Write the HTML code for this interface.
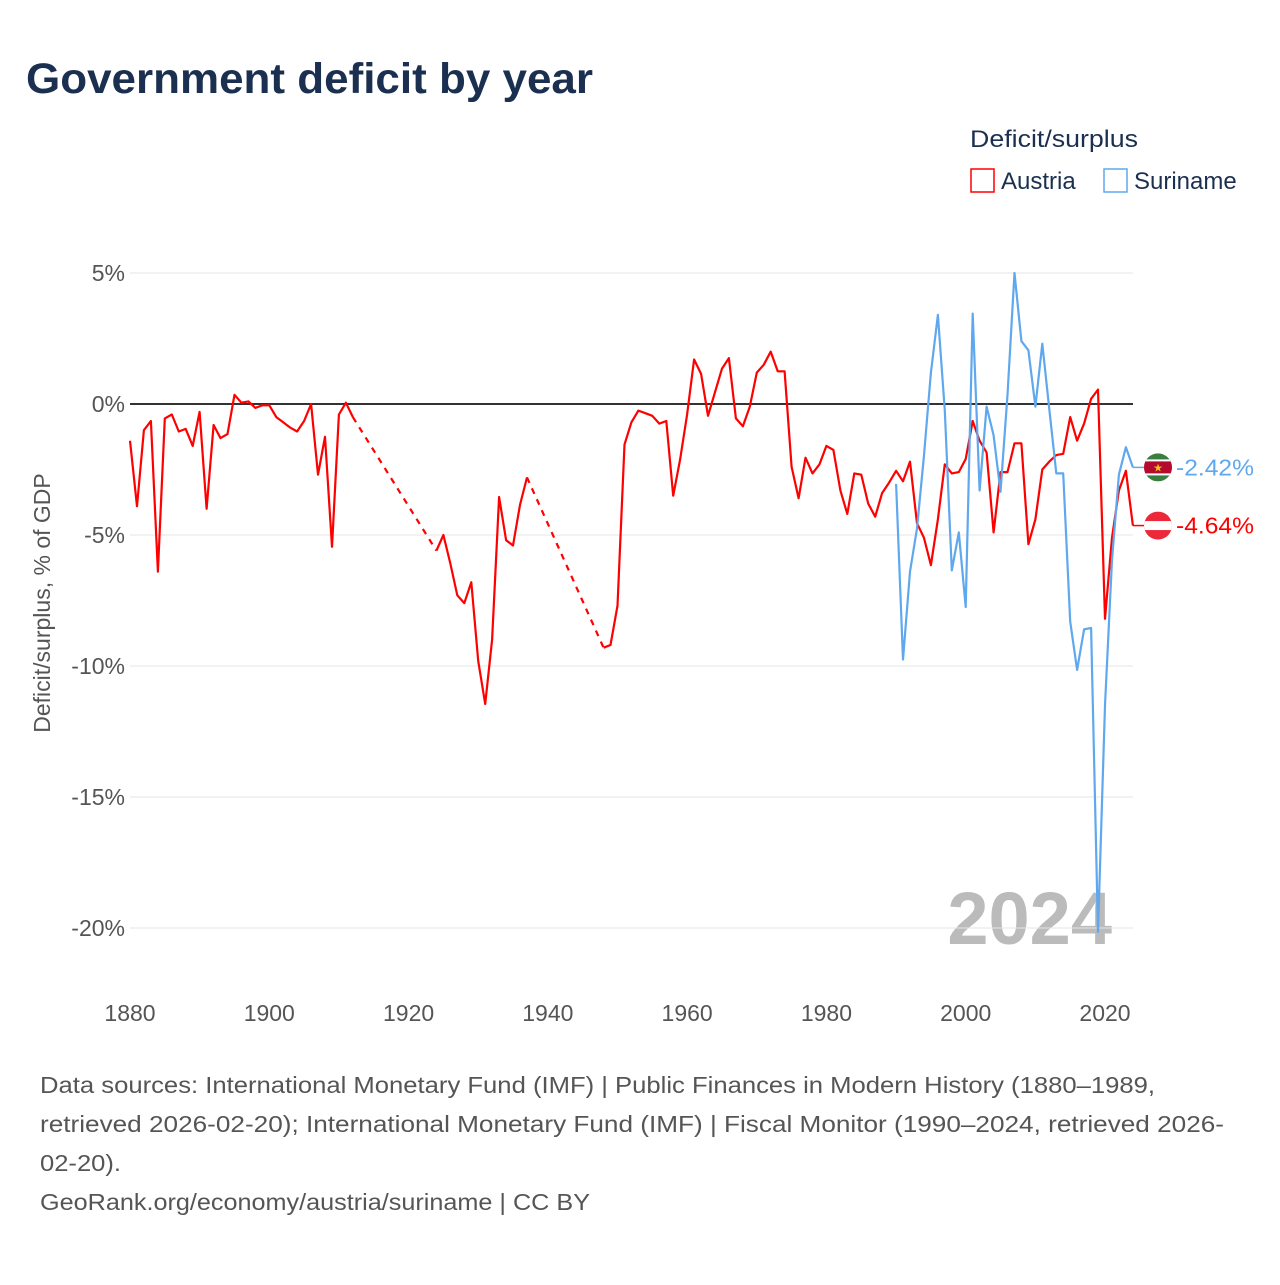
<!DOCTYPE html>
<html><head><meta charset="utf-8"><style>
body{margin:0;background:#fff;font-family:"Liberation Sans",Lato,sans-serif;}
</style></head><body>
<svg id="chart" width="1280" height="1280" viewBox="0 0 1280 1280" xmlns="http://www.w3.org/2000/svg">
<text x="26" y="93" font-size="43" font-weight="bold" fill="#1b3050" textLength="567" lengthAdjust="spacingAndGlyphs">Government deficit by year</text>
<text x="970" y="147" font-size="24" fill="#1b3050" textLength="168" lengthAdjust="spacingAndGlyphs">Deficit/surplus</text>
<g><rect x="971" y="169" width="23" height="23" fill="none" stroke="#f00" stroke-width="1.5"/><text x="1001" y="189" font-size="24" fill="#1b3050">Austria</text></g>
<g><rect x="1104" y="169" width="23" height="23" fill="none" stroke="#5fa8ee" stroke-width="1.5"/><text x="1134" y="189" font-size="24" fill="#1b3050">Suriname</text></g>
<text x="1112" y="944" text-anchor="end" font-size="74" font-weight="bold" fill="#bbb">2024</text>
<g id="grid"></g><g id="series"></g><g id="labels"></g>
<text transform="translate(50,603) rotate(-90)" text-anchor="middle" font-size="23" fill="#555">Deficit/surplus, % of GDP</text>
<g font-size="23" fill="#555">
<text x="40" y="1093" textLength="1115" lengthAdjust="spacingAndGlyphs">Data sources: International Monetary Fund (IMF) | Public Finances in Modern History (1880–1989,</text>
<text x="40" y="1132" textLength="1184" lengthAdjust="spacingAndGlyphs">retrieved 2026-02-20); International Monetary Fund (IMF) | Fiscal Monitor (1990–2024, retrieved 2026-</text>
<text x="40" y="1171" textLength="81" lengthAdjust="spacingAndGlyphs">02-20).</text>
<text x="40" y="1210" textLength="550" lengthAdjust="spacingAndGlyphs">GeoRank.org/economy/austria/suriname | CC BY</text>
</g>
</svg>
<script>
const yTicks=[5,0,-5,-10,-15,-20];
const xTicks=[1880,1900,1920,1940,1960,1980,2000,2020];
const austriaA=[-1.4,-3.9,-1.0,-0.65,-6.4,-0.55,-0.4,-1.05,-0.95,-1.6,-0.3,-4.0,-0.8,-1.3,-1.15,0.35,0.05,0.1,-0.15,-0.05,-0.05,-0.5,-0.7,-0.9,-1.05,-0.65,0,-2.7,-1.25,-5.45,-0.4,0.05,-0.5]; // 1880-1912
const austriaB=[-5.6,-5.0,-6.1,-7.3,-7.6,-6.8,-9.8,-11.45,-9.0,-3.55,-5.2,-5.4,-3.85,-2.8]; // 1924-1937
const austriaC=[-9.3,-9.2,-7.7,-1.55,-0.7,-0.25,-0.35,-0.45,-0.75,-0.65,-3.5,-2.1,-0.4,1.7,1.15,-0.45,0.45,1.35,1.75,-0.55,-0.85,-0.1,1.2,1.5,2.0,1.25,1.25,-2.4,-3.6,-2.05,-2.65,-2.3,-1.6,-1.75,-3.3,-4.2,-2.65,-2.7,-3.8,-4.3,-3.4,-3.0,-2.55,-2.95,-2.2,-4.55,-5.1,-6.15,-4.4,-2.3,-2.65,-2.6,-2.1,-0.65,-1.4,-1.85,-4.9,-2.6,-2.6,-1.5,-1.5,-5.35,-4.4,-2.5,-2.2,-1.95,-1.9,-0.5,-1.4,-0.75,0.2,0.55,-8.2,-5.1,-3.3,-2.55,-4.64]; // 1948-2024
const suriname=[-3.05,-9.75,-6.4,-4.75,-2.0,1.2,3.4,-0.25,-6.35,-4.9,-7.75,3.45,-3.3,-0.1,-1.2,-3.35,0.35,5.0,2.4,2.05,-0.1,2.3,-0.2,-2.65,-2.65,-8.3,-10.15,-8.6,-8.55,-20.15,-11.5,-5.95,-2.7,-1.65,-2.42]; // 1990-2024
const NS='http://www.w3.org/2000/svg';
const xs=y=>130+(y-1880)*975/140;
const ys=v=>404-v*26.2;
function mk(t,a,p){const e=document.createElementNS(NS,t);for(const k in a)e.setAttribute(k,a[k]);p.appendChild(e);return e;}
const grid=document.getElementById('grid');
yTicks.forEach(v=>{
 const l=mk('line',{x1:130,x2:1133,y1:ys(v),y2:ys(v),stroke:v===0?'#333':'#e6e6e6','stroke-width':v===0?2:1},grid);
 
 
 const t=mk('text',{x:125,y:ys(v)+8,'text-anchor':'end','font-size':23,fill:'#555'},grid);t.textContent=v+'%';
 
 
});
xTicks.forEach(y=>{
 const t=mk('text',{x:xs(y),y:1021,'text-anchor':'middle','font-size':23,fill:'#555'},grid);t.textContent=y;
 
 
});
const S=document.getElementById('series');
function line(arr,start,color,name){
 const d=arr.map((v,i)=>(i?'L':'M')+xs(start+i).toFixed(1)+','+ys(v).toFixed(1)).join('');
 const p=mk('path',{d:d,fill:'none',stroke:color,'stroke-width':2.2,'stroke-linejoin':'round'},S);
 
 
}
function gap(y0,v0,y1,v1,name){
 const p=mk('path',{d:'M'+xs(y0)+','+ys(v0)+'L'+xs(y1)+','+ys(v1),fill:'none',stroke:'#f00','stroke-width':2.2,'stroke-dasharray':'6,6'},S);
 
 
}
line(austriaA,1880,'#f00','austria-line-1880-1912');
gap(1912,austriaA[austriaA.length-1],1924,austriaB[0],'austria-gap-1912-1924');
line(austriaB,1924,'#f00','austria-line-1924-1937');
gap(1937,austriaB[austriaB.length-1],1948,austriaC[0],'austria-gap-1937-1948');
line(austriaC,1948,'#f00','austria-line-1948-2024');
line(suriname,1990,'#5fa8ee','suriname-line');
const L=document.getElementById('labels');
function endLabel(v,color,name,flag){
 const x0=xs(2024),y=ys(v);
 const ln=mk('line',{x1:x0,x2:1146,y1:y,y2:y,stroke:color,'stroke-width':1.5},L);
 
 
 const g=mk('g',{},L);
 
 
 const cid='c'+name;
 const cp=mk('clipPath',{id:cid},g);mk('circle',{cx:1158,cy:y,r:14},cp);
 const gg=mk('g',{'clip-path':'url(#'+cid+')'},g);
 flag(gg,y);
 const t=mk('text',{x:1176,y:y+8,'font-size':23,fill:color,textLength:78,lengthAdjust:'spacingAndGlyphs'},L);t.textContent=v.toFixed(2)+'%';
 
 
}
endLabel(suriname[suriname.length-1],'#5fa8ee','suriname',(g,y)=>{
 mk('rect',{x:1144,y:y-14,width:28,height:28,fill:'#377e3f'},g);
 mk('rect',{x:1144,y:y-8,width:28,height:16,fill:'#fff'},g);
 mk('rect',{x:1144,y:y-6,width:28,height:12,fill:'#b40a2d'},g);
 const s=mk('text',{x:1158,y:y+4,'text-anchor':'middle','font-size':11,fill:'#ecc81d'},g);s.textContent='★';
});
endLabel(austriaC[austriaC.length-1],'#f00','austria',(g,y)=>{
 mk('rect',{x:1144,y:y-14,width:28,height:28,fill:'#ed2939'},g);
 mk('rect',{x:1144,y:y-4.5,width:28,height:9,fill:'#fff'},g);
});
</script>
</body></html>
